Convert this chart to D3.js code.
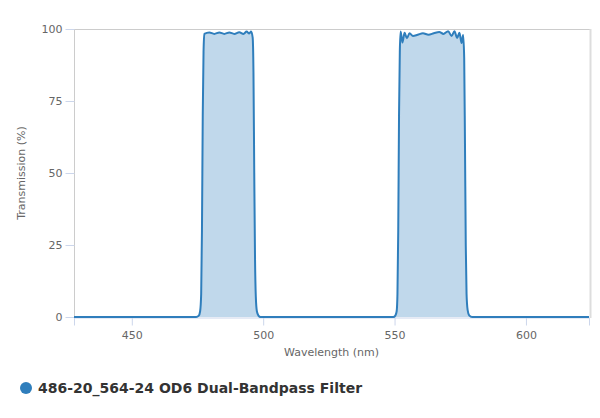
<!DOCTYPE html>
<html>
<head>
<meta charset="utf-8">
<script src="https://cdn.jsdelivr.net/npm/d3@7"></script>
<style>
  html, body { margin: 0; padding: 0; background: #fff; }
  svg { display: block; }
</style>
</head>
<body>
<svg id="chart" width="600" height="418"></svg>
<script>
// ---- Data ----
const seriesName = "486-20_564-24 OD6 Dual-Bandpass Filter";
const wavelengths = [
  428, 474.5, 475.5, 476.0, 476.4, 476.7, 477.0, 477.3, 477.6,
  479.5, 481.4, 483.3, 485.2, 487.1, 489.0, 490.9, 492.5, 493.7, 494.7, 495.4,
  496.0, 496.3, 496.6, 496.9, 497.2, 497.6, 498.2, 499.0,
  549.5, 550.3, 550.8, 551.1, 551.4, 551.7, 552.0,
  552.3, 553.0, 553.8, 554.7, 555.7, 557.0, 558.8, 560.8, 562.9, 564.9, 567.0,
  568.6, 570.4, 571.7, 572.8, 573.8, 574.7, 575.5, 576.1,
  576.5, 576.8, 577.1, 577.4, 577.8, 578.4, 579.5, 624
];
const transmission = [
  0, 0, 0.5, 2, 8, 30, 70, 92, 98.3,
  98.8, 98.3, 98.8, 98.3, 98.8, 98.3, 98.9, 98.3, 99.1, 98.4, 99.1,
  97, 85, 50, 20, 7, 2, 0.5, 0,
  0, 0.5, 2, 8, 30, 70, 92,
  99.1, 95.3, 98.7, 96.8, 98.5, 97.6, 98.0, 98.5, 98.0, 98.5, 99.0,
  98.3, 99.2, 97.6, 99.2, 96.9, 98.7, 95.1, 97.9,
  90, 60, 25, 8, 2.5, 0.6, 0, 0
];
const xTicks = [450, 500, 550, 600];
const yTicks = [0, 25, 50, 75, 100];
const xDomain = [428, 624];
const yDomain = [0, 100];

// ---- Layout ----
const svg = d3.select("#chart");
const mLeft = 74, mRight = 589, mTop = 29, mBottom = 317;
const color = "#2f7ebc";
const font = "'DejaVu Sans', 'Open Sans', sans-serif";

const x = d3.scaleLinear().domain(xDomain).range([mLeft, mRight]);
const y = d3.scaleLinear().domain(yDomain).range([mBottom, mTop]);

const data = wavelengths.map((w, i) => ({ w, t: transmission[i] }));

// plot border (top/right)
svg.append("line").attr("x1", mLeft).attr("x2", mRight + 1).attr("y1", mTop + 0.5).attr("y2", mTop + 0.5)
  .attr("stroke", "#cccccc").attr("stroke-width", 1);
svg.append("line").attr("x1", mRight + 1.5).attr("x2", mRight + 1.5).attr("y1", mTop).attr("y2", mBottom + 1)
  .attr("stroke", "#dddddd").attr("stroke-width", 2);

// area + line
const area = d3.area().x(d => x(d.w)).y0(y(0)).y1(d => y(d.t)).curve(d3.curveMonotoneX);
const line = d3.line().x(d => x(d.w)).y(d => y(d.t)).curve(d3.curveMonotoneX);

svg.append("path").datum(data).attr("d", area).attr("fill", color).attr("fill-opacity", 0.3);

// x axis
const xAxis = svg.append("g").attr("transform", `translate(0,${mBottom + 0.5})`)
  .call(d3.axisBottom(x).tickValues(xTicks).tickSize(8).tickPadding(6).tickFormat(d3.format("d")));
xAxis.select(".domain").attr("stroke", "#ccd6eb");
xAxis.selectAll(".tick line").attr("stroke", "#ccd6eb");
xAxis.selectAll("text").attr("fill", "#666666").style("font", `11px ${font}`);

// y axis
const yAxis = svg.append("g").attr("transform", `translate(${mLeft + 0.5},0)`)
  .call(d3.axisLeft(y).tickValues(yTicks).tickSize(9).tickPadding(3));
yAxis.select(".domain").attr("stroke", "#cccccc").attr("d", `M0,${mTop}V${mBottom}`);
yAxis.selectAll(".tick line").attr("stroke", "#ccd6eb");
yAxis.selectAll("text").attr("fill", "#666666").style("font", `11px ${font}`);

svg.append("path").datum(data).attr("d", line).attr("fill", "none")
  .attr("stroke", color).attr("stroke-width", 2).attr("stroke-linejoin", "round");

// axis titles
svg.append("text").attr("x", (mLeft + mRight) / 2).attr("y", 356).attr("text-anchor", "middle")
  .attr("fill", "#666666").style("font", `11px ${font}`).text("Wavelength (nm)");
svg.append("text").attr("transform", `translate(25,${(mTop + mBottom) / 2}) rotate(-90)`)
  .attr("text-anchor", "middle").attr("fill", "#666666").style("font", `11px ${font}`)
  .text("Transmission (%)");

// legend
svg.append("circle").attr("cx", 26).attr("cy", 388).attr("r", 6).attr("fill", color);
svg.append("text").attr("x", 38).attr("y", 393).attr("fill", "#333333")
  .style("font", `bold 14px ${font}`).text(seriesName);
</script>
</body>
</html>
